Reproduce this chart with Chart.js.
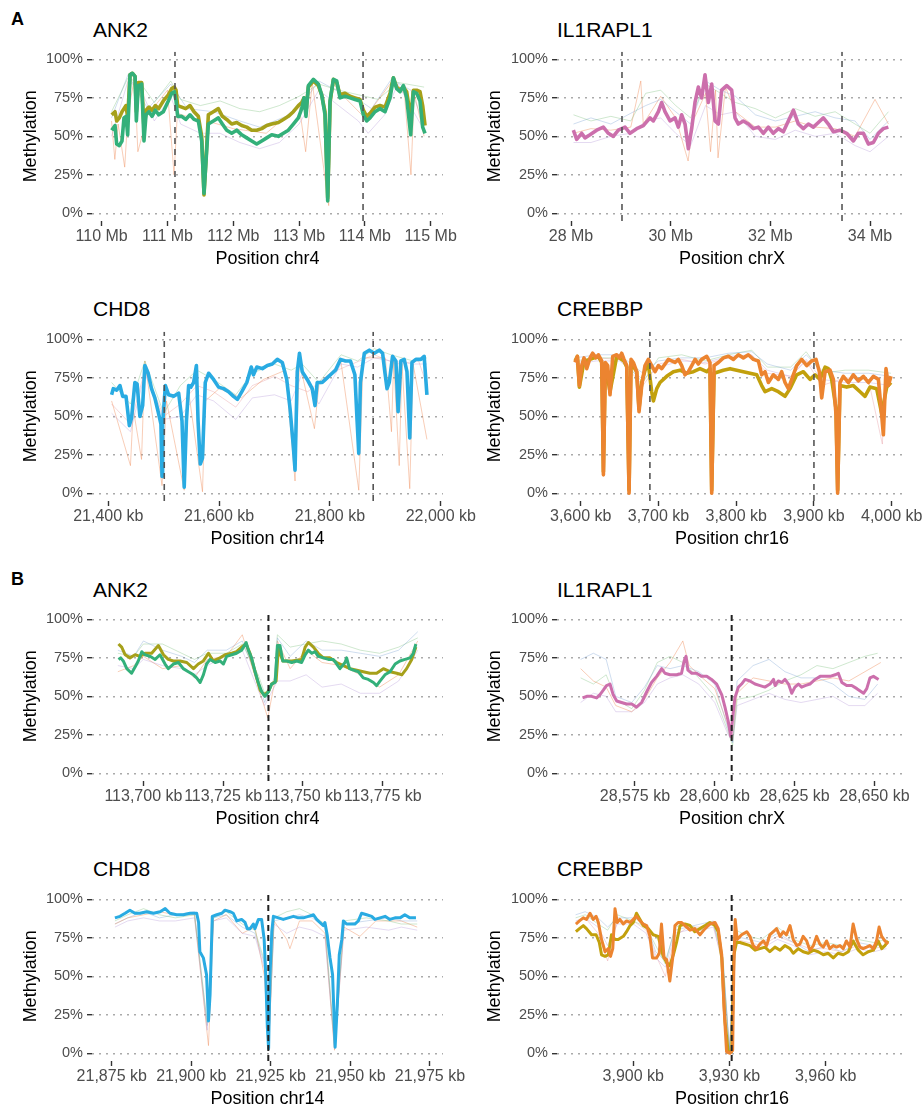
<!DOCTYPE html>
<html>
<head>
<meta charset="utf-8">
<script src="https://cdn.jsdelivr.net/npm/chart.js@4.4.0/dist/chart.umd.min.js"></script>
<style>
  html, body { margin: 0; padding: 0; background: #fff; width: 923px; height: 1106px; overflow: hidden; position: relative;
    font-family: "Liberation Sans", Arial, sans-serif; }
  .panel { position: absolute; }
  .ttl { position: absolute; font-size: 21px; line-height: 21px; color: #000; white-space: nowrap; }
  .tag { position: absolute; font-size: 18px; line-height: 18px; font-weight: bold; color: #000; }
</style>
</head>
<body>
<div class="tag" style="left:11px;top:10px">A</div>
<div class="tag" style="left:11px;top:570px">B</div>
<div class="ttl" style="left:93px;top:19px">ANK2</div>
<div class="ttl" style="left:557px;top:19px">IL1RAPL1</div>
<div class="ttl" style="left:93px;top:298px">CHD8</div>
<div class="ttl" style="left:557px;top:298px">CREBBP</div>
<div class="ttl" style="left:93px;top:579px">ANK2</div>
<div class="ttl" style="left:557px;top:579px">IL1RAPL1</div>
<div class="ttl" style="left:93px;top:858px">CHD8</div>
<div class="ttl" style="left:557px;top:858px">CREBBP</div>
<script>
const FONT = "'Liberation Sans', Arial, sans-serif";
const yTickVals = [0, 25, 50, 75, 100];

// ---- A: ANK2 (Mb) ----
const ank2ATicks = [110, 111, 112, 113, 114, 115];
const ank2ADashes = [111.114, 113.972];
const ank2APos = [110.152,110.203,110.228,110.268,110.309,110.339,110.370,110.395,110.431,110.466,110.507,110.527,110.557,110.608,110.643,110.674,110.719,110.765,110.816,110.866,110.937,111.013,111.064,111.104,111.130,111.155,111.216,111.277,111.342,111.403,111.469,111.520,111.555,111.586,111.621,111.697,111.773,111.834,111.900,111.976,112.052,112.128,112.204,112.280,112.356,112.432,112.508,112.584,112.685,112.761,112.837,112.913,112.989,113.040,113.075,113.105,113.141,113.217,113.293,113.343,113.394,113.435,113.470,113.521,113.571,113.622,113.698,113.774,113.850,113.926,113.977,114.027,114.078,114.154,114.230,114.306,114.382,114.433,114.483,114.534,114.585,114.635,114.696,114.737,114.787,114.838,114.878,114.914];
const ank2AGreen = [54,57,45,44,47,62,63,51,90,91,89,60,83,84,47,64,66,63,67,64,66,73,78,79,73,63,63,61,64,61,60,47,13,34,58,60,62,58,54,52,54,51,49,47,45,47,49,51,50,52,54,58,62,68,75,63,83,87,84,77,64,8,73,87,86,75,76,75,74,73,64,60,62,66,68,66,75,88,81,79,83,75,51,79,78,73,56,52];
const ank2AOlive = [64,66,60,62,66,68,70,62,90,91,89,66,85,85,55,67,69,67,70,68,73,77,81,82,80,70,69,68,70,66,63,50,12,35,64,66,68,63,61,58,59,57,56,54,54,55,57,58,59,61,63,66,70,72,75,66,82,86,83,77,66,10,72,87,85,77,78,76,75,74,67,63,65,69,70,69,78,88,82,80,82,79,62,80,80,79,70,57];
const ank2ABgGreen = [[110.15,66],[110.4,88],[110.6,84],[110.8,72],[111.05,86],[111.2,74],[111.5,70],[111.8,73],[112.1,68],[112.4,66],[112.7,70],[113.0,76],[113.3,84],[113.6,80],[113.9,77],[114.2,74],[114.5,85],[114.9,82]];
const ank2ABgPurple = [[110.15,50],[110.4,86],[110.6,80],[110.8,60],[111.05,76],[111.2,58],[111.5,52],[111.8,52],[112.1,46],[112.4,42],[112.7,46],[113.0,58],[113.3,80],[113.6,70],[113.9,60],[114.05,52],[114.3,64],[114.5,84],[114.9,54]];
const ank2ABgOrange = [[110.15,60],[110.2,35],[110.25,58],[110.35,30],[110.4,65],[110.5,88],[110.55,40],[110.7,64],[111.0,80],[111.1,25],[111.15,65],[111.5,60],[111.55,12],[111.6,60],[112.0,55],[112.5,52],[113.0,70],[113.1,40],[113.2,85],[113.45,5],[113.5,85],[113.7,75],[114.0,62],[114.4,85],[114.6,78],[114.7,25],[114.75,78],[114.9,50]];
const ank2ABgBlue = [[110.15,62],[110.4,90],[110.7,68],[111.05,84],[111.3,68],[111.7,66],[112.1,60],[112.4,56],[112.8,63],[113.1,74],[113.3,86],[113.6,79],[113.9,74],[114.1,68],[114.4,87],[114.7,80],[114.9,58]];

// ---- A: IL1RAPL1 (Mb) ----
const il1ATicks = [28, 30, 32, 34];
const il1ADashes = [29.023, 33.438];
const il1APos = [28.047,28.114,28.214,28.281,28.381,28.515,28.649,28.749,28.849,28.950,29.084,29.184,29.318,29.452,29.585,29.652,29.753,29.819,29.886,29.987,30.087,30.154,30.221,30.288,30.355,30.421,30.488,30.555,30.622,30.689,30.756,30.823,30.890,30.957,31.023,31.124,31.224,31.291,31.358,31.458,31.559,31.659,31.759,31.860,31.960,32.060,32.161,32.261,32.361,32.462,32.562,32.662,32.763,32.863,32.963,33.064,33.164,33.264,33.398,33.532,33.666,33.766,33.866,33.967,34.067,34.167,34.268,34.368];
const il1APink = [54,48,52,49,51,54,56,52,50,54,56,52,55,57,62,60,66,72,66,60,62,56,64,58,42,55,72,82,75,90,72,84,60,58,80,83,80,62,58,60,58,55,56,52,56,52,55,53,60,67,58,55,58,56,59,62,58,53,54,52,47,52,52,45,46,52,55,56];
const il1ABgGreen = [[28.05,64],[28.4,60],[28.8,63],[29.2,60],[29.5,78],[29.8,80],[30.1,70],[30.4,62],[30.7,84],[31.0,78],[31.3,72],[31.7,68],[32.1,62],[32.5,68],[32.9,63],[33.3,66],[33.7,58],[34.0,52],[34.37,66]];
const il1ABgBlue = [[28.05,58],[28.4,62],[28.8,58],[29.2,65],[29.5,70],[29.8,74],[30.1,66],[30.4,58],[30.7,86],[31.0,80],[31.3,76],[31.7,64],[32.1,60],[32.5,63],[32.9,66],[33.3,62],[33.7,60],[34.0,48],[34.37,60]];
const il1ABgOrange = [[28.05,52],[28.4,55],[28.8,54],[29.2,56],[29.4,86],[29.45,58],[29.8,76],[30.1,62],[30.35,34],[30.45,60],[30.7,78],[30.8,40],[30.9,80],[30.95,36],[31.1,82],[31.3,66],[31.7,56],[32.1,56],[32.5,60],[32.9,56],[33.3,55],[33.7,50],[34.1,74],[34.37,58]];
const il1ABgPurple = [[28.05,46],[28.4,46],[28.8,50],[29.2,52],[29.5,60],[29.8,62],[30.1,52],[30.4,44],[30.7,70],[31.0,64],[31.3,66],[31.7,50],[32.1,48],[32.5,54],[32.9,50],[33.3,52],[33.7,44],[34.0,40],[34.37,50]];

// ---- A: CHD8 (kb) ----
const chd8ATicks = [21400, 21600, 21800, 22000];
const chd8ADashes = [21501, 21878];
const chd8APos = [21406,21409,21415,21421,21426,21432,21438,21442,21448,21452,21457,21462,21466,21472,21478,21484,21490,21495,21497,21498,21503,21509,21518,21527,21533,21537,21541,21545,21549,21554,21559,21562,21566,21570,21575,21581,21590,21599,21608,21617,21626,21633,21641,21650,21658,21662,21668,21678,21687,21696,21705,21714,21722,21728,21734,21737,21741,21745,21750,21759,21768,21773,21777,21786,21792,21801,21810,21819,21828,21837,21845,21849,21852,21855,21862,21871,21880,21889,21895,21899,21903,21907,21913,21919,21923,21928,21934,21939,21944,21948,21955,21964,21970,21975];
const chd8ABlue = [64,68,67,70,63,63,44,49,72,71,50,57,83,78,68,62,53,45,11,45,70,64,63,65,47,4,47,70,69,72,83,47,19,23,72,78,74,69,68,66,63,61,66,72,82,77,82,81,83,84,87,85,74,55,30,15,79,91,79,74,68,57,72,72,74,77,80,87,86,86,77,47,26,72,91,93,91,93,91,79,68,72,89,86,53,86,87,79,36,85,87,87,89,64];
const chd8ABgGreen = [[21406,72],[21440,58],[21466,86],[21500,52],[21530,70],[21560,80],[21590,74],[21630,64],[21660,78],[21700,84],[21730,80],[21750,84],[21780,72],[21820,90],[21850,86],[21880,94],[21910,90],[21950,86],[21975,88]];
const chd8ABgPurple = [[21406,52],[21440,40],[21466,78],[21500,48],[21530,50],[21560,64],[21590,60],[21630,48],[21660,62],[21700,64],[21730,60],[21750,78],[21780,58],[21820,84],[21850,82],[21880,88],[21910,86],[21950,84],[21975,84]];
const chd8ABgOrange = [[21406,60],[21440,18],[21445,55],[21460,22],[21466,86],[21497,5],[21505,60],[21537,2],[21545,66],[21570,1],[21575,60],[21600,68],[21640,62],[21680,74],[21720,80],[21737,8],[21745,85],[21772,42],[21780,70],[21820,85],[21852,2],[21860,88],[21900,88],[21911,40],[21915,86],[21925,18],[21930,84],[21944,3],[21950,84],[21975,35]];
const chd8ABgRed = [[21406,58],[21440,45],[21466,80],[21500,50],[21530,58],[21560,70],[21590,66],[21630,56],[21660,70],[21700,76],[21730,70],[21760,66],[21800,78],[21840,84],[21880,90],[21920,84],[21960,86],[21975,70]];

// ---- A: CREBBP (kb) ----
const crebATicks = [3600, 3700, 3800, 3900, 4000];
const crebADashes = [3689, 3900];
const crebAOrangePos = [3592.7,3595.7,3598.3,3601.3,3604.3,3607.7,3612.0,3615.4,3619.7,3622.7,3627.0,3629.2,3631.7,3634.7,3637.7,3641.2,3646.3,3649.7,3652.7,3655.7,3659.2,3662.2,3664.7,3667.7,3672.0,3675.0,3678.5,3682.7,3687.0,3691.3,3695.6,3699.9,3704.2,3708.5,3712.8,3717.0,3721.3,3725.6,3729.9,3734.2,3738.5,3742.8,3747.1,3751.3,3755.6,3762.1,3766.3,3768.5,3771.5,3777.1,3783.5,3789.9,3796.4,3802.8,3809.2,3815.6,3822.1,3828.5,3832.8,3837.1,3841.4,3847.8,3854.2,3858.5,3862.8,3867.1,3871.4,3877.8,3884.2,3890.7,3897.1,3902.7,3907.0,3910.0,3914.3,3920.7,3925.0,3928.4,3930.5,3933.5,3937.8,3944.3,3950.7,3957.1,3963.6,3970.0,3976.4,3982.9,3987.1,3989.3,3992.7,3995.7,3999.1];
const crebAOrange = [85,89,70,83,88,81,88,91,88,90,86,12,85,83,64,89,90,88,91,87,83,0,87,85,79,53,70,83,87,83,79,83,81,84,87,86,85,87,83,77,79,83,87,84,87,89,85,0,83,85,88,89,87,90,88,90,87,86,77,79,72,77,74,79,72,68,74,83,87,83,86,87,79,62,79,80,74,51,0,72,76,72,77,73,76,72,76,74,51,38,81,70,76];
const crebAOlivePos = [3592.7,3595.7,3598.3,3604.3,3612.0,3622.7,3627.0,3629.2,3631.7,3637.7,3646.3,3655.7,3659.2,3662.2,3664.7,3672.0,3675.0,3678.5,3682.7,3687.0,3691.3,3693.5,3697.8,3702.0,3710.6,3719.2,3727.8,3736.3,3744.9,3753.5,3762.1,3766.3,3768.5,3771.5,3783.5,3792.1,3800.6,3809.2,3817.8,3826.4,3832.8,3837.1,3845.7,3854.2,3862.8,3869.2,3877.8,3886.4,3895.0,3901.4,3907.8,3914.3,3918.5,3922.8,3928.4,3930.5,3933.5,3942.1,3950.7,3959.3,3965.7,3972.1,3980.7,3987.1,3993.6,3999.1];
const crebAOlive = [86,89,69,86,87,89,85,14,84,66,89,86,82,2,85,79,55,72,80,84,66,60,68,72,76,79,80,78,79,81,79,81,2,78,80,81,80,79,78,77,70,66,68,66,63,68,77,79,74,77,74,82,81,74,55,2,70,69,70,66,63,69,68,52,69,72];
const crebABgBlue = [[3593,88],[3620,90],[3650,90],[3680,78],[3700,86],[3730,88],[3760,88],[3790,91],[3820,92],[3840,84],[3870,80],[3890,90],[3910,80],[3940,78],[3970,78],[3999,76]];
const crebABgGreen = [[3593,86],[3620,88],[3650,88],[3680,72],[3700,88],[3730,90],[3760,86],[3790,90],[3820,93],[3840,82],[3870,82],[3890,92],[3910,78],[3940,80],[3970,80],[3999,78]];
const crebABgPurple = [[3593,84],[3620,86],[3650,86],[3680,74],[3700,82],[3730,86],[3760,85],[3790,89],[3820,90],[3840,80],[3870,76],[3890,87],[3910,74],[3940,72],[3970,72],[3999,70]];
const crebABgRed = [[3593,85],[3620,88],[3650,87],[3680,70],[3700,84],[3730,87],[3760,84],[3790,88],[3820,89],[3840,78],[3870,76],[3890,86],[3910,70],[3940,75],[3970,74],[3988,32],[3992,72],[3999,74]];

// ---- B: ANK2 (kb) ----
const ank2BTicks = [113700, 113725, 113750, 113775];
const ank2BDashes = [113739.2];
const ank2BGreenPos = [113692.2,113692.9,113693.7,113694.8,113696.3,113697.4,113698.4,113699.5,113700.5,113702.1,113703.7,113705.2,113706.8,113707.8,113709.4,113711.0,113712.5,113714.1,113715.7,113716.7,113717.8,113718.8,113719.8,113720.9,113722.5,113724.0,113725.1,113726.1,113727.7,113729.2,113730.8,113732.2,113732.9,113733.9,113735.0,113736.0,113737.1,113738.1,113739.2,113740.2,113741.3,113742.0,113742.8,113743.7,113744.9,113746.5,113748.1,113749.6,113750.7,113751.7,113752.8,113753.8,113754.8,113756.4,113758.0,113759.5,113760.6,113761.6,113763.2,113763.7,113764.6,113765.8,113767.4,113768.9,113770.5,113772.1,113773.1,113774.2,113775.7,113777.3,113778.9,113780.4,113782.0,113783.6,113784.6,113785.4];
const ank2BGreen = [74,75,73,68,65,69,73,79,77,76,74,77,71,68,71,72,68,66,64,62,59,64,71,74,72,73,71,76,77,78,80,85,80,75,66,59,53,50,53,58,59,83,83,73,73,72,73,72,77,80,78,79,76,75,74,74,71,68,72,75,68,67,66,62,61,59,57,60,64,66,71,73,74,75,78,84];
const ank2BOlivePos = [113692.2,113693.2,113694.3,113695.8,113697.4,113699.0,113700.5,113702.6,113704.7,113706.3,113707.8,113709.4,113711.5,113713.6,113715.7,113717.2,113718.8,113720.4,113721.9,113724.0,113725.6,113727.7,113729.2,113730.8,113732.2,113733.4,113735.0,113736.6,113737.8,113739.2,113740.2,113741.6,113742.3,113743.7,113746.5,113749.6,113750.7,113751.7,113753.3,113754.8,113756.4,113758.5,113760.6,113762.7,113764.8,113766.9,113768.9,113771.0,113773.1,113775.2,113777.3,113779.4,113781.0,113782.5,113784.1,113785.4];
const ank2BOlive = [84,82,77,75,77,76,78,78,83,77,74,73,73,72,68,71,73,78,73,75,77,78,79,82,84,78,66,54,51,53,58,60,81,73,73,74,82,85,82,78,75,75,72,70,68,67,66,65,65,68,66,65,64,68,74,82];
const ank2BBgBlue = [[113692,80],[113697,76],[113700,86],[113706,80],[113712,76],[113716,72],[113720,80],[113726,80],[113731,86],[113736,60],[113738,46],[113741,62],[113742,88],[113746,76],[113751,86],[113756,80],[113762,80],[113768,78],[113774,76],[113780,80],[113786,92]];
const ank2BBgPurple = [[113692,70],[113697,68],[113700,74],[113706,70],[113712,68],[113716,64],[113720,70],[113726,76],[113731,80],[113736,54],[113738,44],[113741,56],[113742,60],[113746,60],[113751,64],[113756,56],[113762,58],[113768,52],[113774,52],[113780,60],[113786,80]];
const ank2BBgGreen = [[113692,78],[113697,76],[113700,84],[113706,84],[113712,78],[113716,74],[113720,78],[113726,78],[113731,84],[113736,64],[113738,52],[113741,60],[113742,90],[113746,82],[113751,84],[113756,86],[113762,84],[113768,80],[113774,78],[113780,82],[113786,88]];
const ank2BBgOrange = [[113692,66],[113697,70],[113700,76],[113706,68],[113712,70],[113716,62],[113720,74],[113726,76],[113731,90],[113736,56],[113739,36],[113741,58],[113742,86],[113746,68],[113751,80],[113756,72],[113762,70],[113768,64],[113774,56],[113780,64],[113786,86]];

// ---- B: IL1RAPL1 (kb) ----
const il1BTicks = [28575, 28600, 28625, 28650];
const il1BDashes = [28605.3];
const il1BPos = [28558.6,28559.9,28561.4,28563.0,28564.0,28565.1,28566.1,28567.2,28568.2,28569.3,28570.8,28572.4,28574.0,28575.5,28577.1,28578.7,28580.2,28581.8,28583.4,28584.4,28586.0,28588.1,28589.6,28590.4,28591.0,28591.6,28592.8,28594.3,28595.9,28597.5,28599.0,28600.6,28602.2,28603.2,28604.2,28605.0,28605.6,28606.3,28607.4,28608.4,28609.5,28611.0,28612.6,28614.2,28615.7,28617.3,28618.4,28618.9,28619.9,28621.0,28622.0,28623.1,28624.1,28625.1,28626.2,28627.2,28628.3,28629.8,28631.4,28633.0,28634.5,28636.1,28637.7,28638.7,28639.8,28641.3,28642.9,28644.5,28646.6,28647.6,28648.6,28649.7,28651.3];
const il1BPink = [49,50,50,49,51,54,57,58,51,47,46,45,45,43,46,53,59,63,68,65,64,64,65,73,76,67,65,65,63,63,61,58,51,43,34,24,36,49,56,58,61,60,58,57,56,58,61,57,60,59,61,58,52,56,58,56,57,58,61,63,63,63,64,65,59,57,57,55,52,55,62,63,61];
const il1BBgBlue = [[28558,74],[28562,78],[28566,74],[28569,50],[28574,46],[28578,56],[28582,70],[28586,68],[28590,70],[28595,66],[28600,58],[28604,30],[28605.6,20],[28607,60],[28612,70],[28617,74],[28622,66],[28627,62],[28632,62],[28637,58],[28642,50],[28647,48],[28651,58]];
const il1BBgGreen = [[28558,62],[28562,58],[28566,64],[28569,48],[28574,42],[28578,54],[28582,72],[28586,76],[28590,72],[28595,62],[28600,50],[28604,28],[28605.6,18],[28607,48],[28612,50],[28617,54],[28622,60],[28627,64],[28632,70],[28637,68],[28642,72],[28647,76],[28651,78]];
const il1BBgOrange = [[28558,68],[28562,60],[28566,56],[28569,44],[28574,40],[28578,48],[28582,62],[28586,72],[28590,86],[28592,70],[28595,64],[28600,55],[28604,32],[28605.6,22],[28607,52],[28612,62],[28617,60],[28622,58],[28627,58],[28632,60],[28637,62],[28642,60],[28647,66],[28652,72]];
const il1BBgPurple = [[28558,46],[28562,52],[28566,50],[28569,40],[28574,40],[28578,46],[28582,58],[28586,62],[28590,64],[28595,58],[28600,46],[28604,26],[28605.6,20],[28607,44],[28612,48],[28617,52],[28622,48],[28627,46],[28632,48],[28637,50],[28642,44],[28647,44],[28651,52]];

// ---- B: CHD8 (kb) ----
const chd8BTicks = [21875, 21900, 21925, 21950, 21975];
const chd8BDashes = [21924.2];
const chd8BPos = [21876.0,21877.6,21879.2,21880.7,21882.3,21883.9,21886.0,21888.1,21890.2,21891.8,21893.3,21895.4,21897.5,21899.6,21901.7,21902.3,21902.7,21903.8,21904.8,21905.4,21905.9,21906.6,21908.0,21909.6,21910.6,21912.2,21913.2,21914.3,21915.8,21916.9,21917.6,21918.5,21919.5,21920.0,21921.1,21922.1,21922.9,21923.4,21923.9,21924.3,21924.7,21925.3,21925.8,21927.4,21928.9,21930.5,21932.1,21933.6,21935.2,21936.8,21938.4,21939.4,21940.4,21941.5,21942.0,21942.7,21943.6,21944.4,21945.2,21945.9,21946.5,21947.3,21947.8,21948.8,21950.4,21951.4,21952.5,21953.5,21955.1,21956.7,21957.7,21959.3,21960.9,21962.4,21964.0,21965.6,21967.1,21968.7,21970.6];
const chd8BBlue = [88,89,91,93,91,91,92,91,92,94,91,90,90,91,91,85,66,62,51,21,38,89,90,91,93,92,91,86,87,85,81,81,84,81,87,87,74,51,17,3,49,79,89,88,87,88,89,88,88,89,90,87,85,83,85,77,62,51,4,32,64,74,86,84,84,84,86,91,90,89,87,88,89,87,88,88,90,88,88];
const chd8BBgGreen = [[21876,86],[21880,90],[21885,94],[21890,90],[21895,88],[21901,90],[21905,20],[21907,88],[21911,92],[21916,84],[21920,80],[21923,60],[21924.3,5],[21926,88],[21930,92],[21934,94],[21938,90],[21942,84],[21945,5],[21948,86],[21955,88],[21962,86],[21966,84],[21971,84]];
const chd8BBgPurple = [[21876,82],[21880,86],[21885,88],[21890,86],[21895,86],[21901,88],[21905,15],[21907,86],[21911,88],[21916,78],[21920,76],[21923,55],[21924.3,4],[21926,84],[21930,78],[21934,82],[21938,80],[21942,76],[21945,3],[21948,80],[21955,82],[21962,80],[21966,82],[21971,80]];
const chd8BBgOrange = [[21876,84],[21880,88],[21885,90],[21890,92],[21895,90],[21901,90],[21905.4,5],[21907,86],[21911,90],[21916,78],[21920,82],[21923,50],[21924.3,3],[21926,86],[21930,74],[21931,68],[21934,86],[21938,86],[21942,78],[21945,2],[21948,82],[21953,76],[21958,86],[21966,86],[21971,82]];
const chd8BBgBlue = [[21876,84],[21880,88],[21885,92],[21890,88],[21895,90],[21901,92],[21905,18],[21907,88],[21911,90],[21916,82],[21920,78],[21923,58],[21924.3,4],[21926,86],[21930,88],[21934,90],[21938,88],[21942,82],[21945,4],[21948,84],[21955,86],[21962,88],[21966,86],[21971,86]];

// ---- B: CREBBP (kb) ----
const crebBTicks = [3900, 3930, 3960];
const crebBDashes = [3930.7];
const crebBOrangePos = [3882.1,3883.2,3884.4,3885.4,3886.5,3887.5,3888.4,3889.1,3890.1,3891.2,3892.2,3892.9,3893.6,3894.3,3895.0,3895.8,3896.9,3897.9,3899.0,3900.0,3901.0,3902.1,3903.1,3904.2,3905.2,3906.0,3907.3,3908.1,3908.8,3909.6,3910.4,3911.4,3912.3,3913.0,3914.0,3915.1,3916.1,3917.7,3919.2,3920.8,3922.4,3923.9,3925.5,3926.5,3927.6,3928.3,3929.1,3930.2,3931.0,3931.4,3931.8,3932.4,3933.8,3935.4,3936.4,3937.4,3938.5,3939.5,3940.6,3941.6,3942.6,3943.7,3944.7,3945.8,3946.8,3947.8,3948.9,3949.9,3951.0,3952.0,3953.0,3954.1,3955.1,3956.2,3957.2,3958.2,3959.3,3960.3,3961.3,3962.4,3963.4,3964.5,3965.5,3966.5,3967.6,3968.6,3969.7,3970.7,3971.7,3972.8,3973.8,3974.9,3975.9,3976.7,3977.5,3978.5,3979.5];
const crebBOrange = [84,86,88,87,91,87,89,85,74,66,68,63,68,94,85,87,84,86,85,87,89,86,84,83,76,62,62,65,84,62,61,47,62,83,85,85,83,80,81,77,81,84,85,81,64,30,1,0,2,60,87,74,77,79,76,70,68,71,73,70,77,79,81,76,79,77,83,74,70,71,76,73,67,70,76,71,69,73,68,70,69,70,68,73,69,84,74,69,68,69,70,68,73,82,76,73,71];
const crebBOlivePos = [3882.1,3883.2,3884.4,3885.4,3887.0,3888.4,3889.4,3890.1,3891.2,3892.2,3893.2,3894.3,3895.3,3896.9,3897.9,3899.0,3900.0,3901.0,3902.1,3903.1,3904.7,3906.2,3907.8,3909.2,3910.4,3911.4,3912.5,3913.5,3914.6,3916.1,3917.7,3919.2,3920.8,3922.4,3923.9,3925.5,3926.5,3927.6,3928.6,3929.6,3930.7,3931.4,3932.2,3933.3,3934.8,3936.4,3938.0,3939.5,3941.1,3942.6,3944.2,3945.8,3947.3,3948.9,3949.9,3951.5,3953.0,3954.6,3956.2,3957.7,3959.3,3960.8,3962.4,3963.9,3965.5,3967.1,3968.6,3970.2,3971.7,3973.3,3974.9,3976.4,3977.5,3978.5,3979.5];
const crebBOlive = [79,81,83,81,77,77,72,64,63,64,77,74,74,76,79,83,85,91,87,83,81,77,76,64,59,57,64,72,83,84,83,79,81,83,85,83,79,62,21,1,1,64,72,72,71,70,67,68,69,66,69,67,70,68,65,68,66,65,67,66,64,65,62,65,64,66,73,67,64,66,67,73,68,70,73];
const crebBBgBlue = [[3882,90],[3885,92],[3889,88],[3892,82],[3895,88],[3900,88],[3904,84],[3907,66],[3910,60],[3913,80],[3917,82],[3921,84],[3925,86],[3928,60],[3930,2],[3932,76],[3936,74],[3940,72],[3945,78],[3950,72],[3955,66],[3960,70],[3965,66],[3970,72],[3975,70],[3979,70]];
const crebBBgGreen = [[3882,88],[3885,90],[3889,84],[3892,80],[3895,90],[3900,86],[3904,82],[3907,70],[3910,58],[3913,82],[3917,84],[3921,80],[3925,84],[3928,62],[3930,2],[3932,80],[3936,76],[3940,74],[3945,82],[3950,74],[3955,70],[3960,72],[3965,70],[3970,74],[3975,72],[3979,74]];
const crebBBgPurple = [[3882,86],[3885,88],[3889,82],[3892,70],[3895,84],[3900,84],[3904,78],[3907,62],[3910,56],[3913,78],[3917,80],[3921,80],[3925,82],[3928,58],[3930,1],[3932,72],[3936,70],[3940,68],[3945,74],[3950,70],[3955,64],[3960,66],[3965,64],[3970,68],[3975,66],[3979,68]];
const crebBBgRed = [[3882,84],[3885,88],[3889,78],[3892,60],[3895,86],[3900,86],[3904,80],[3907,64],[3910,50],[3913,76],[3917,82],[3921,82],[3925,84],[3928,56],[3930,1],[3932,74],[3936,72],[3940,70],[3945,76],[3950,72],[3955,68],[3960,68],[3965,66],[3970,70],[3975,68],[3979,70]];

// colours
const cGreen = '#33b07a', cOliveA = '#a6a01a', cPink = '#cc6fac', cBlue = '#29abe2', cOrange = '#ec8430', cOliveC = '#c2a00c';
const bgGreen = 'rgba(120,190,120,0.45)', bgBlue = 'rgba(120,160,210,0.45)', bgPurple = 'rgba(180,150,215,0.45)',
      bgOrange = 'rgba(240,140,90,0.55)', bgRed = 'rgba(225,130,140,0.40)';

function zip(pos, vals) {
  const out = [];
  for (let i = 0; i < Math.min(pos.length, vals.length); i++) out.push({ x: pos[i], y: vals[i] });
  return out;
}
function commas(v) { return String(v).replace(/\B(?=(\d{3})+(?!\d))/g, ','); }

function makePanel(p) {
  const left = p.right ? 460 : 0;
  const width = p.right ? 480 : 490;
  const height = 231;
  const wrap = document.createElement('div');
  wrap.className = 'panel';
  wrap.style.left = left + 'px';
  wrap.style.top = p.top + 'px';
  wrap.style.width = width + 'px';
  wrap.style.height = height + 'px';
  const cv = document.createElement('canvas');
  cv.width = width; cv.height = height;
  cv.style.width = width + 'px'; cv.style.height = height + 'px';
  wrap.appendChild(cv);
  document.body.appendChild(wrap);

  const datasets = [];
  p.dashes.forEach(d => datasets.push({
    data: [{ x: d, y: -5 }, { x: d, y: 105 }],
    borderColor: p.panelB ? '#222' : '#555', borderWidth: p.panelB ? 2 : 1.6,
    borderDash: p.panelB ? [6, 4] : [6, 5], order: 0
  }));
  p.main.forEach((s, i) => datasets.push({
    data: zip(s.pos, s.vals), borderColor: s.color, borderWidth: p.panelB ? 3 : 3.6, order: 1 + i
  }));
  p.bg.forEach((s, i) => datasets.push({
    data: s.pts.map(([x, y]) => ({ x, y })), borderColor: s.color, borderWidth: 0.8, order: 10 + i
  }));

  new Chart(cv, {
    type: 'line',
    data: { datasets },
    options: {
      responsive: false,
      animation: false,
      devicePixelRatio: 1,
      layout: { padding: { left: p.right ? 24 : 20, right: p.right ? 33 : 47, top: 10, bottom: 0 } },
      plugins: { legend: { display: false }, tooltip: { enabled: false }, title: { display: false } },
      elements: { point: { radius: 0 }, line: { tension: 0, borderJoinStyle: 'round' } },
      scales: {
        x: {
          type: 'linear', min: p.xMin, max: p.xMax,
          afterBuildTicks: s => { s.ticks = p.xTicks.map(v => ({ value: v })); },
          afterFit: s => { s.height = 49; },
          grid: { drawOnChartArea: false, drawTicks: true, tickLength: 5, tickColor: '#333', tickWidth: 1.4 },
          border: { display: false },
          ticks: { autoSkip: false, maxRotation: 0, minRotation: 0, padding: 1, color: '#4d4d4d',
                   font: { family: FONT, size: 16 }, callback: v => p.fmt(v) },
          title: { display: true, text: p.xTitle, color: '#000', font: { family: FONT, size: 18 }, padding: 0 }
        },
        y: {
          type: 'linear', min: -5, max: 105,
          afterBuildTicks: s => { s.ticks = yTickVals.map(v => ({ value: v })); },
          afterFit: s => { s.width = p.right ? 73 : 72; },
          grid: { color: '#aaaaaa', lineWidth: 1.4, tickLength: 5, tickColor: '#333', tickWidth: 1.4, tickBorderDash: [] },
          border: { display: false, dash: [2, 5] },
          ticks: { padding: 4, color: '#4d4d4d', font: { family: FONT, size: 14.5 }, callback: v => v + '%' },
          title: { display: true, text: 'Methylation', color: '#000', font: { family: FONT, size: 18 }, padding: 0 }
        }
      }
    }
  });
}

const mb = v => v + ' Mb';
const kb = v => commas(v) + ' kb';

makePanel({ top: 39, right: false, xMin: 109.853, xMax: 115.187, xTicks: ank2ATicks, fmt: mb, xTitle: 'Position chr4', dashes: ank2ADashes,
  main: [{ pos: ank2APos, vals: ank2AGreen, color: cGreen }, { pos: ank2APos, vals: ank2AOlive, color: cOliveA }],
  bg: [{ pts: ank2ABgGreen, color: bgGreen }, { pts: ank2ABgPurple, color: bgPurple }, { pts: ank2ABgOrange, color: bgOrange }, { pts: ank2ABgBlue, color: bgBlue }] });
makePanel({ top: 39, right: true, xMin: 27.719, xMax: 34.742, xTicks: il1ATicks, fmt: mb, xTitle: 'Position chrX', dashes: il1ADashes,
  main: [{ pos: il1APos, vals: il1APink, color: cPink }],
  bg: [{ pts: il1ABgGreen, color: bgGreen }, { pts: il1ABgBlue, color: bgBlue }, { pts: il1ABgOrange, color: bgOrange }, { pts: il1ABgPurple, color: bgPurple }] });
makePanel({ top: 319, right: false, xMin: 21370.6, xMax: 22004, xTicks: chd8ATicks, fmt: kb, xTitle: 'Position chr14', dashes: chd8ADashes,
  main: [{ pos: chd8APos, vals: chd8ABlue, color: cBlue }],
  bg: [{ pts: chd8ABgGreen, color: bgGreen }, { pts: chd8ABgPurple, color: bgPurple }, { pts: chd8ABgOrange, color: bgOrange }, { pts: chd8ABgRed, color: bgRed }] });
makePanel({ top: 319, right: true, xMin: 3569.5, xMax: 4019.7, xTicks: crebATicks, fmt: kb, xTitle: 'Position chr16', dashes: crebADashes,
  main: [{ pos: crebAOrangePos, vals: crebAOrange, color: cOrange }, { pos: crebAOlivePos, vals: crebAOlive, color: cOliveC }],
  bg: [{ pts: crebABgBlue, color: bgBlue }, { pts: crebABgGreen, color: bgGreen }, { pts: crebABgPurple, color: bgPurple }, { pts: crebABgRed, color: bgRed }] });
makePanel({ top: 599, right: false, panelB: true, xMin: 113683.9, xMax: 113793.9, xTicks: ank2BTicks, fmt: kb, xTitle: 'Position chr4', dashes: ank2BDashes,
  main: [{ pos: ank2BGreenPos, vals: ank2BGreen, color: cGreen }, { pos: ank2BOlivePos, vals: ank2BOlive, color: cOliveA }],
  bg: [{ pts: ank2BBgBlue, color: bgBlue }, { pts: ank2BBgPurple, color: bgPurple }, { pts: ank2BBgGreen, color: bgGreen }, { pts: ank2BBgOrange, color: bgOrange }] });
makePanel({ top: 599, right: true, panelB: true, xMin: 28550.6, xMax: 28660.2, xTicks: il1BTicks, fmt: kb, xTitle: 'Position chrX', dashes: il1BDashes,
  main: [{ pos: il1BPos, vals: il1BPink, color: cPink }],
  bg: [{ pts: il1BBgBlue, color: bgBlue }, { pts: il1BBgGreen, color: bgGreen }, { pts: il1BBgOrange, color: bgOrange }, { pts: il1BBgPurple, color: bgPurple }] });
makePanel({ top: 879, right: false, panelB: true, xMin: 21868.8, xMax: 21979.1, xTicks: chd8BTicks, fmt: kb, xTitle: 'Position chr14', dashes: chd8BDashes,
  main: [{ pos: chd8BPos, vals: chd8BBlue, color: cBlue }],
  bg: [{ pts: chd8BBgGreen, color: bgGreen }, { pts: chd8BBgPurple, color: bgPurple }, { pts: chd8BBgOrange, color: bgOrange }, { pts: chd8BBgBlue, color: bgBlue }] });
makePanel({ top: 879, right: true, panelB: true, xMin: 3876.2, xMax: 3985.4, xTicks: crebBTicks, fmt: kb, xTitle: 'Position chr16', dashes: crebBDashes,
  main: [{ pos: crebBOrangePos, vals: crebBOrange, color: cOrange }, { pos: crebBOlivePos, vals: crebBOlive, color: cOliveC }],
  bg: [{ pts: crebBBgBlue, color: bgBlue }, { pts: crebBBgGreen, color: bgGreen }, { pts: crebBBgPurple, color: bgPurple }, { pts: crebBBgRed, color: bgRed }] });
</script>
</body>
</html>
